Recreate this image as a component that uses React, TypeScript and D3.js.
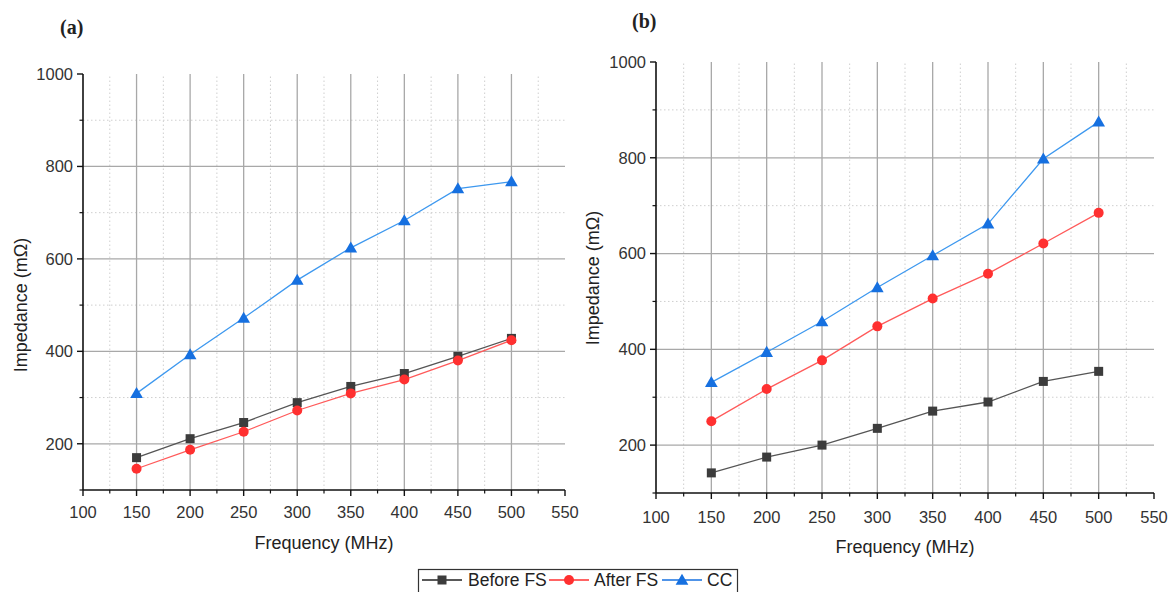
import React from "react";
import * as d3 from "d3";

const freqs = [150, 200, 250, 300, 350, 400, 450, 500];

// panel (a)
const beforeA = [170, 211, 246, 289, 324, 352, 389, 428];
const afterA = [146, 187, 226, 272, 309, 339, 380, 424];
const ccA = [309, 393, 472, 554, 624, 683, 752, 767];

// panel (b)
const beforeB = [142, 175, 200, 235, 271, 290, 333, 354];
const afterB = [250, 317, 377, 448, 506, 558, 621, 685];
const ccB = [331, 394, 458, 529, 596, 662, 798, 875];

const xTicks = [100, 150, 200, 250, 300, 350, 400, 450, 500, 550];
const xMinor = [125, 175, 225, 275, 325, 375, 425, 475, 525];
const yTicks = [200, 400, 600, 800, 1000];
const yMinor = [100, 300, 500, 700, 900];

const seriesNames = ["Before FS", "After FS", "CC"];
const lineColors = ["#555555", "#ff5a5a", "#3d98ef"];
const markColors = ["#3c3c3c", "#ff3030", "#1670e0"];

const font = "Liberation Sans, Arial, sans-serif";

function Marker({ kind, x, y }: { kind: number; x: number; y: number }) {
  if (kind === 0) return <rect x={x - 4.5} y={y - 4.5} width={9} height={9} fill={markColors[0]} />;
  if (kind === 1) return <circle cx={x} cy={y} r={5} fill={markColors[1]} />;
  const s = d3.symbol(d3.symbolTriangle, 70)();
  return <path d={s as string} transform={`translate(${x},${y + 1})`} fill={markColors[2]} />;
}

function Panel(props: any) {
  const { x0, x1, y0, y1, label, lx, ly, data, titleX, titleY, xTitleY, xLabelY } = props;
  const x = d3.scaleLinear().domain([100, 550]).range([x0, x1]);
  const y = d3.scaleLinear().domain([100, 1000]).range([y0, y1]);
  const line = d3
    .line<number>()
    .x((d, i) => x(freqs[i]))
    .y((d) => y(d));

  return (
    <g>
      <text x={lx} y={ly} fontFamily="Liberation Serif, Times New Roman, serif" fontSize={20} fontWeight="bold" fill="#222">
        ({label})
      </text>
      {/* minor grid */}
      {xMinor.map((t) => (
        <line key={"xm" + t} x1={x(t)} x2={x(t)} y1={y0} y2={y1} stroke="#cfcfcf" strokeDasharray="1.5,2.5" />
      ))}
      {yMinor.slice(1).map((t) => (
        <line key={"ym" + t} x1={x0} x2={x1} y1={y(t)} y2={y(t)} stroke="#cfcfcf" strokeDasharray="1.5,2.5" />
      ))}
      {/* major grid */}
      {xTicks.slice(1, -1).map((t) => (
        <line key={"xg" + t} x1={x(t)} x2={x(t)} y1={y0} y2={y1} stroke="#a8a8a8" strokeWidth={1.3} />
      ))}
      {yTicks.slice(0, -1).map((t) => (
        <line key={"yg" + t} x1={x0} x2={x1} y1={y(t)} y2={y(t)} stroke="#a8a8a8" strokeWidth={1.3} />
      ))}
      {/* axes */}
      <line x1={x0} x2={x0} y1={y0} y2={y1} stroke="#111" strokeWidth={1.6} />
      <line x1={x0} x2={x1} y1={y0} y2={y0} stroke="#111" strokeWidth={1.6} />
      {xTicks.map((t) => (
        <g key={"xt" + t}>
          <line x1={x(t)} x2={x(t)} y1={y0} y2={y0 + 6} stroke="#111" strokeWidth={1.4} />
          <text x={x(t)} y={xLabelY} textAnchor="middle" fontFamily={font} fontSize={16.5} fill="#333">
            {t}
          </text>
        </g>
      ))}
      {xMinor.map((t) => (
        <line key={"xmt" + t} x1={x(t)} x2={x(t)} y1={y0} y2={y0 + 3.5} stroke="#111" strokeWidth={1.2} />
      ))}
      {yTicks.map((t) => (
        <g key={"yt" + t}>
          <line x1={x0 - 6} x2={x0} y1={y(t)} y2={y(t)} stroke="#111" strokeWidth={1.4} />
          <text x={x0 - 10} y={y(t)} dy="0.35em" textAnchor="end" fontFamily={font} fontSize={16.5} fill="#333">
            {t}
          </text>
        </g>
      ))}
      {yMinor.map((t) => (
        <line key={"ymt" + t} x1={x0 - 3.5} x2={x0} y1={y(t)} y2={y(t)} stroke="#111" strokeWidth={1.2} />
      ))}
      <text x={(x0 + x1) / 2} y={xTitleY} textAnchor="middle" fontFamily={font} fontSize={18} fill="#222">
        Frequency (MHz)
      </text>
      <text
        transform={`translate(${titleX},${titleY}) rotate(-90)`}
        textAnchor="middle"
        dy="0.35em"
        fontFamily={font}
        fontSize={18}
        fill="#222"
      >
        Impedance (mΩ)
      </text>
      {/* series */}
      {data.map((vals: number[], k: number) => (
        <g key={"s" + k}>
          <path d={line(vals) as string} fill="none" stroke={lineColors[k]} strokeWidth={1.3} />
          {vals.map((v, i) => (
            <Marker key={i} kind={k} x={x(freqs[i])} y={y(v)} />
          ))}
        </g>
      ))}
    </g>
  );
}

function Legend() {
  const items = [
    { x: 422, tx: 468 },
    { x: 549, tx: 594 },
    { x: 662, tx: 707 },
  ];
  return (
    <g>
      <rect x={418.5} y={569.5} width={319} height={26} fill="#fff" stroke="#333" strokeWidth={1.2} />
      {items.map((it, k) => (
        <g key={k}>
          <line x1={it.x} x2={it.x + 40} y1={580} y2={580} stroke={k === 0 ? "#222" : markColors[k]} strokeWidth={1.3} />
          <Marker kind={k} x={it.x + 20} y={580} />
          <text x={it.tx} y={586} fontFamily={font} fontSize={17.5} fill="#222">
            {seriesNames[k]}
          </text>
        </g>
      ))}
    </g>
  );
}

export default function App() {
  return (
    <svg width={1172} height={592} style={{ position: "absolute", left: 0, top: 0, background: "#fff" }}>
      <Panel
        x0={83}
        x1={565}
        y0={490}
        y1={74}
        label="a"
        lx={60}
        ly={34}
        data={[beforeA, afterA, ccA]}
        titleX={21}
        titleY={305}
        xTitleY={549}
        xLabelY={518}
      />
      <Panel
        x0={656}
        x1={1154}
        y0={493}
        y1={62}
        label="b"
        lx={632}
        ly={28}
        data={[beforeB, afterB, ccB]}
        titleX={593}
        titleY={278}
        xTitleY={553}
        xLabelY={523}
      />
      <Legend />
    </svg>
  );
}
